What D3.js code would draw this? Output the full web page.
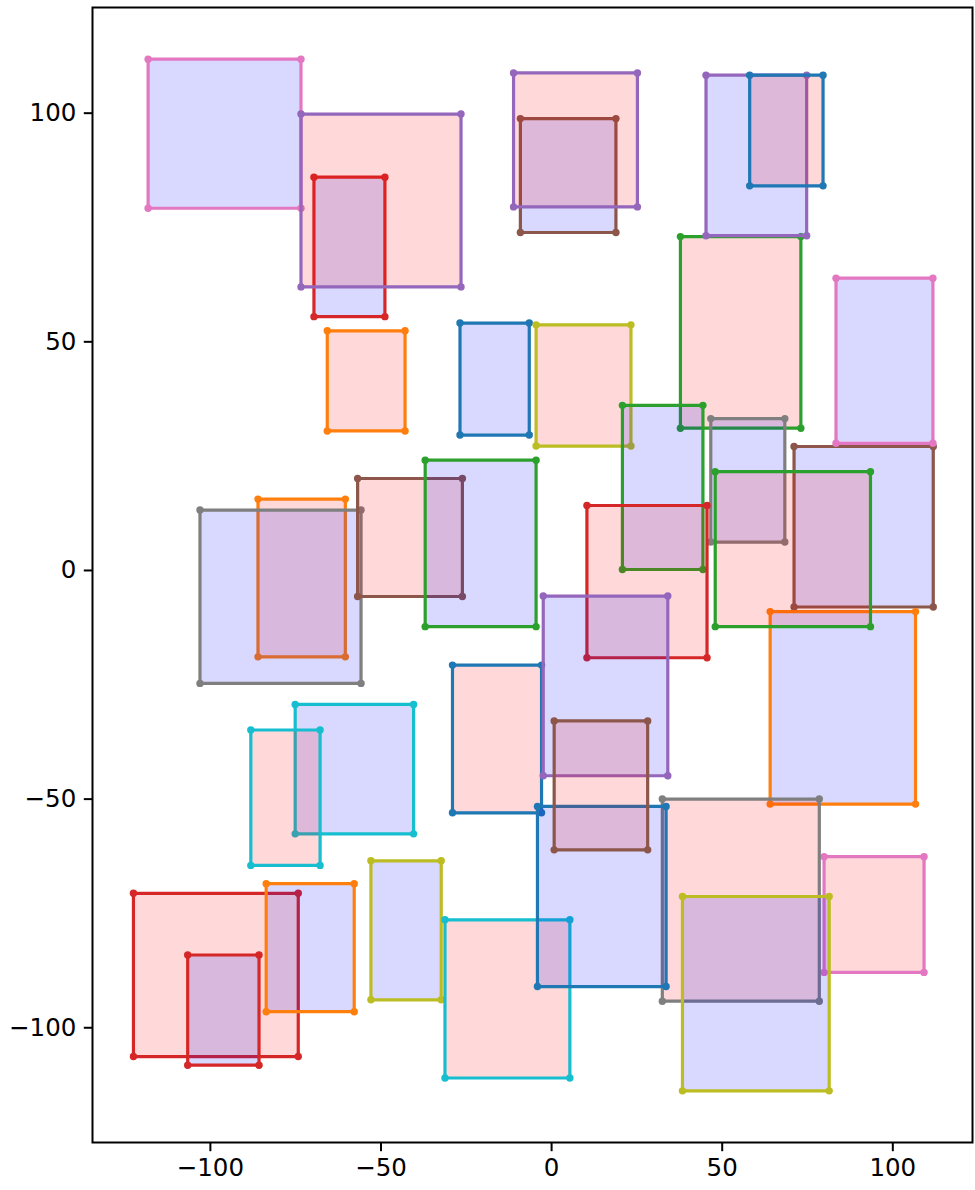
<!DOCTYPE html>
<html>
<head>
<meta charset="utf-8">
<script src="https://cdn.jsdelivr.net/npm/d3@7"></script>
<style>
  html, body { margin: 0; padding: 0; background: #fff; }
  svg { display: block; }
</style>
</head>
<body>
<script>
// Rectangles in drawing order (outline colour cycles through tab10 by index)
const rectX0 = [-26.7, -65.6, 37.9, -69.5, 45.4, -9.0, -118.1, 46.8, -4.4, -75.0,
                58.2, -85.9, 20.9, 10.5, -11.0, 71.2, 83.5, -102.9, -52.8, -88.0,
                -28.9, 64.2, 48.1, -122.4, -73.3, -56.7, 80.0, 32.6, 38.5, -31.1,
                -4.0, -83.5, -36.9, -106.5, -2.3, 0.9];
const rectX1 = [-6.4, -42.8, 73.2, -48.7, 74.9, 19.0, -73.3, 68.5, 23.4, -40.3,
                79.7, -60.3, 44.5, 45.7, 25.3, 112.0, 111.9, -55.7, -32.2, -67.7,
                -2.8, 106.8, 93.6, -74.1, -26.4, -26.0, 109.3, 78.6, 81.5, 5.5,
                33.7, -57.7, -4.4, -85.6, 34.2, 28.3];
const rectY0 = [29.5, 30.4, 31.0, 55.4, 73.1, 73.8, 79.1, 6.1, 27.1, -57.7,
                84.0, -19.0, 0.1, -19.2, 79.4, -8.1, 27.7, -24.8, -94.0, -64.6,
                -53.1, -51.2, -12.4, -106.4, 61.9, -5.8, -88.0, -94.3, -113.9, -111.1,
                -91.1, -96.6, -12.4, -108.3, -45.0, -61.2];
const rectY1 = [54.0, 52.3, 72.9, 85.9, 108.2, 98.7, 111.7, 33.1, 53.6, -29.4,
                108.2, 15.5, 36.0, 14.1, 108.7, 27.0, 63.8, 13.1, -63.6, -35.0,
                -20.8, -9.1, 21.5, -70.7, 99.7, 20.0, -62.7, -50.1, -71.4, -76.5,
                -51.7, -68.6, 24.0, -84.2, -5.7, -33.0];
const rectFill = ["blue", "red", "red", "blue", "blue", "blue", "blue", "blue", "red", "blue",
                  "red", "red", "blue", "red", "red", "blue", "blue", "blue", "blue", "red",
                  "red", "blue", "red", "red", "red", "red", "red", "red", "blue", "red",
                  "blue", "blue", "blue", "blue", "blue", "red"];
const xTicks = [-100, -50, 0, 50, 100];
const yTicks = [-100, -50, 0, 50, 100];
const xDomain = [-134.4, 123.5];
const yDomain = [-125.2, 123.0];

const W = 975, H = 1190;
const mLeft = 92.5, mRight = 972.5, mTop = 7.5, mBottom = 1142.5;

const svg = d3.select("body").append("svg").attr("width", W).attr("height", H);
const x = d3.scaleLinear().domain(xDomain).range([mLeft, mRight]);
const y = d3.scaleLinear().domain(yDomain).range([mBottom, mTop]);
const colors = d3.schemeCategory10;
const fills = { blue: "rgba(0,0,255,0.15)", red: "rgba(255,0,0,0.15)" };

const data = rectX0.map((d, i) => ({
  i, x0: rectX0[i], x1: rectX1[i], y0: rectY0[i], y1: rectY1[i], fill: rectFill[i]
}));

const plot = svg.append("g");
const line = d3.line().x(p => x(p[0])).y(p => y(p[1]));

data.forEach(d => {
  const g = plot.append("g");
  const c = colors[d.i % 10];
  g.append("rect")
    .attr("x", x(d.x0)).attr("y", y(d.y1))
    .attr("width", x(d.x1) - x(d.x0)).attr("height", y(d.y0) - y(d.y1))
    .attr("fill", fills[d.fill]);
  const pts = [[d.x0, d.y0], [d.x1, d.y0], [d.x1, d.y1], [d.x0, d.y1], [d.x0, d.y0]];
  g.append("path").attr("d", line(pts)).attr("fill", "none")
    .attr("stroke", c).attr("stroke-width", 3.2).attr("stroke-linejoin", "round");
  g.selectAll("circle").data(pts.slice(0, 4)).join("circle")
    .attr("cx", p => x(p[0])).attr("cy", p => y(p[1])).attr("r", 3.7).attr("fill", c);
});

const fmt = v => (v < 0 ? "\u2212" + Math.abs(v) : String(v));
const xAxis = d3.axisBottom(x).tickValues(xTicks).tickFormat(fmt).tickSize(8.7).tickPadding(7.5);
const yAxis = d3.axisLeft(y).tickValues(yTicks).tickFormat(fmt).tickSize(8.7).tickPadding(7.5);

const gx = svg.append("g").attr("transform", `translate(0,${mBottom})`).call(xAxis);
const gy = svg.append("g").attr("transform", `translate(${mLeft},0)`).call(yAxis);
[gx, gy].forEach(g => {
  g.select(".domain").remove();
  g.selectAll(".tick line").attr("stroke", "#000").attr("stroke-width", 2);
  g.selectAll(".tick text").attr("fill", "#000")
    .style("font-family", "'DejaVu Sans', sans-serif").style("font-size", "24.5px");
});

svg.append("rect").attr("x", mLeft).attr("y", mTop)
  .attr("width", mRight - mLeft).attr("height", mBottom - mTop)
  .attr("fill", "none").attr("stroke", "#000").attr("stroke-width", 2);
</script>
</body>
</html>
